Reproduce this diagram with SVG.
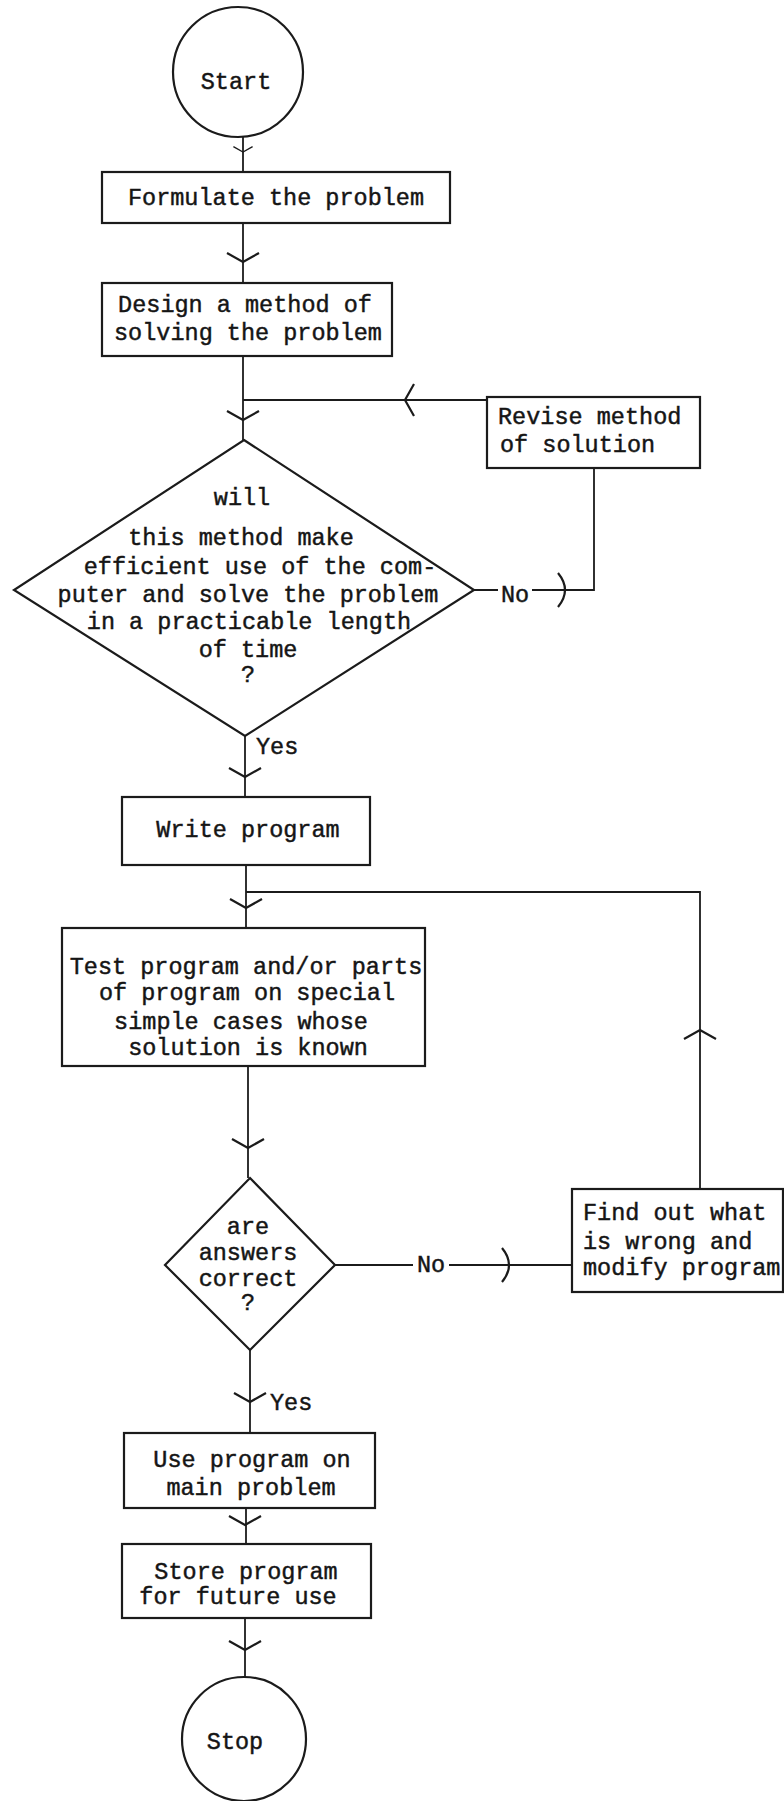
<svg xmlns="http://www.w3.org/2000/svg" width="784" height="1801" viewBox="0 0 784 1801">
<style>
.box{fill:none;stroke:#1b1b1b;stroke-width:2.2}
.ln{fill:none;stroke:#1b1b1b;stroke-width:1.8}
.t{font-family:"Liberation Mono","Courier New",monospace;font-size:23.5px;fill:#151515;stroke:#151515;stroke-width:0.45;text-anchor:middle}
.tl{text-anchor:start}
</style>
<defs>
<path id="chev" d="M-9,-16 L0,0 L-9,16" fill="none" stroke="#1b1b1b" stroke-width="2.2"/>
<path id="arc" d="M-8,-17 Q6,0 -8,17" fill="none" stroke="#1b1b1b" stroke-width="2.2"/>
</defs>
<rect width="784" height="1801" fill="#fff"/>

<g id="connectors">
<path class="ln" d="M243,137 V172"/>
<path class="ln" d="M243,222 V283"/>
<path class="ln" d="M243,356 V440"/>
<path class="ln" d="M487,400 H243"/>
<path class="ln" d="M474,590 H498 M532,590 H594 V468"/>
<path class="ln" d="M245,736 V797"/>
<path class="ln" d="M246,865 V928"/>
<path class="ln" d="M700,1189 V892 H246"/>
<path class="ln" d="M248,1066 V1178"/>
<path class="ln" d="M335,1265 H413 M449,1265 H572"/>
<path class="ln" d="M250,1350 V1433"/>
<path class="ln" d="M246,1508 V1544"/>
<path class="ln" d="M245,1618 V1677"/>
<use href="#chev" transform="translate(243,152) rotate(90) scale(0.6)"/>
<use href="#chev" transform="translate(243,262) rotate(90)"/>
<use href="#chev" transform="translate(405,400) rotate(180)"/>
<use href="#chev" transform="translate(243,420) rotate(90)"/>
<use href="#arc" transform="translate(566,590)"/>
<use href="#chev" transform="translate(245,777) rotate(90)"/>
<use href="#chev" transform="translate(246,908) rotate(90)"/>
<use href="#chev" transform="translate(700,1030) rotate(-90)"/>
<use href="#chev" transform="translate(248,1148) rotate(90)"/>
<use href="#arc" transform="translate(510,1265)"/>
<use href="#chev" transform="translate(250,1402) rotate(90)"/>
<use href="#chev" transform="translate(245,1525) rotate(90)"/>
<use href="#chev" transform="translate(245,1650) rotate(90)"/>
<text class="t" x="515" y="602">No</text>
<text class="t tl" x="256" y="754">Yes</text>
<text class="t" x="431" y="1272">No</text>
<text class="t tl" x="270" y="1410">Yes</text>
</g>

<g id="start">
<circle class="box" cx="238" cy="72" r="65"/>
<text class="t" x="236" y="89">Start</text>
</g>

<g id="formulate">
<rect class="box" x="102" y="172" width="348" height="51"/>
<text class="t" x="276" y="205">Formulate the problem</text>
</g>

<g id="design">
<rect class="box" x="102" y="283" width="290" height="73"/>
<text class="t" x="245" y="312">Design a method of</text>
<text class="t" x="248" y="340">solving the problem</text>
</g>

<g id="revise">
<rect class="box" x="487" y="397" width="213" height="71"/>
<text class="t tl" x="498" y="424">Revise method</text>
<text class="t tl" x="500" y="452">of solution</text>
</g>

<g id="decision1">
<polygon class="box" points="244,440 474,590 245,736 14,590"/>
<text class="t" x="242" y="505">will</text>
<text class="t" x="241" y="545">this method make</text>
<text class="t" x="260" y="574">efficient use of the com-</text>
<text class="t" x="248" y="602">puter and solve the problem</text>
<text class="t" x="249" y="629">in a practicable length</text>
<text class="t" x="248" y="657">of time</text>
<text class="t" x="248" y="682">?</text>
</g>

<g id="write">
<rect class="box" x="122" y="797" width="248" height="68"/>
<text class="t" x="248" y="837">Write program</text>
</g>

<g id="test">
<rect class="box" x="62" y="928" width="363" height="138"/>
<text class="t" x="246" y="974">Test program and/or parts</text>
<text class="t" x="247" y="1000">of program on special</text>
<text class="t" x="241" y="1029">simple cases whose</text>
<text class="t" x="248" y="1055">solution is known</text>
</g>

<g id="decision2">
<polygon class="box" points="250,1178 335,1265 250,1350 165,1265"/>
<text class="t" x="248" y="1234">are</text>
<text class="t" x="248" y="1260">answers</text>
<text class="t" x="248" y="1286">correct</text>
<text class="t" x="248" y="1310">?</text>
</g>

<g id="fix">
<rect class="box" x="572" y="1189" width="211" height="103"/>
<text class="t tl" x="583" y="1220">Find out what</text>
<text class="t tl" x="583" y="1249">is wrong and</text>
<text class="t tl" x="583" y="1275">modify program</text>
</g>

<g id="use">
<rect class="box" x="124" y="1433" width="251" height="75"/>
<text class="t" x="252" y="1467">Use program on</text>
<text class="t" x="251" y="1495">main problem</text>
</g>

<g id="store">
<rect class="box" x="122" y="1544" width="249" height="74"/>
<text class="t" x="246" y="1579">Store program</text>
<text class="t" x="238" y="1604">for future use</text>
</g>

<g id="stop">
<circle class="box" cx="244" cy="1739" r="62"/>
<text class="t" x="235" y="1749">Stop</text>
</g>
</svg>
